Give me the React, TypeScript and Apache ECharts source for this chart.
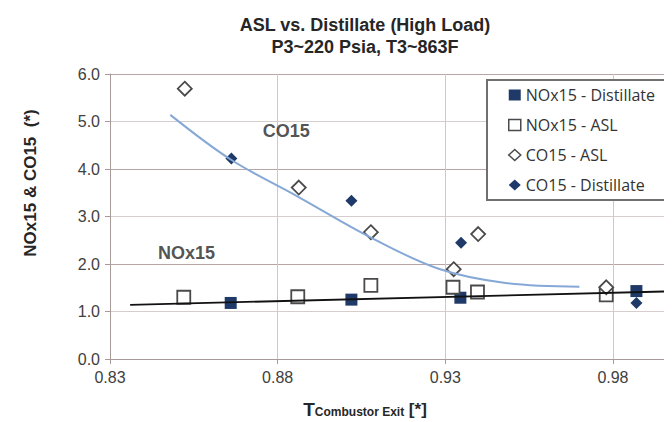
import React, { useEffect, useRef } from "react";
import * as echarts from "echarts";

const titleLines = ["ASL vs. Distillate (High Load)", "P3~220 Psia, T3~863F"];
const yAxisTitle = "NOx15 & CO15  (*)";
const xAxisTitleMain = "T";
const xAxisTitleSub = "Combustor Exit";
const xAxisTitleUnit = " [*]";

const xTickLabels = ["0.83", "0.88", "0.93", "0.98"];
const yTickLabels = ["0.0", "1.0", "2.0", "3.0", "4.0", "5.0", "6.0"];

const seriesNames = ["NOx15 - Distillate", "NOx15 - ASL", "CO15 - ASL", "CO15 - Distillate"];

const noxDistX = [0.866, 0.902, 0.9345, 0.987];
const noxDistY = [1.18, 1.25, 1.29, 1.43];

const noxAslX = [0.852, 0.886, 0.9078, 0.9323, 0.9396, 0.978];
const noxAslY = [1.3, 1.31, 1.55, 1.51, 1.41, 1.35];

const coAslX = [0.8523, 0.8863, 0.9078, 0.9325, 0.9398, 0.978];
const coAslY = [5.69, 3.61, 2.67, 1.89, 2.63, 1.51];

const coDistX = [0.8662, 0.902, 0.9347, 0.987];
const coDistY = [4.22, 3.33, 2.45, 1.18];

const coTrendX = [0.848, 0.866, 0.886, 0.908, 0.928, 0.948, 0.97];
const coTrendY = [5.14, 4.2, 3.42, 2.55, 1.9, 1.6, 1.52];

const noxTrendX = [0.836, 1.0];
const noxTrendY = [1.14, 1.43];

const annotationText = ["CO15", "NOx15"];
const annotationX = [0.8826, 0.8528];
const annotationY = [4.79, 2.23];

const zip = (xs: number[], ys: number[]) => xs.map((x, i) => [x, ys[i]]);

const NAVY = "#1f3a68";
const OPEN_BORDER = "#4a4a4a";

export default function App() {
  const ref = useRef<HTMLDivElement>(null);

  useEffect(() => {
    if (!ref.current) return;
    const chart = echarts.init(ref.current, undefined, { renderer: "svg" });
    const option: any = {
      animation: false,
      backgroundColor: "#ffffff",
      grid: { left: 102, right: 0, top: 66, bottom: 71, containLabel: false },
      graphic: [
        {
          type: "text",
          x: 357,
          y: 6,
          style: {
            text: titleLines.join("\n"),
            font: "bold 18px 'Liberation Sans', Arial, sans-serif",
            lineHeight: 22,
            fill: "#262626",
            align: "center",
            verticalAlign: "top",
          },
        },
        {
          type: "text",
          x: 22,
          y: 175,
          rotation: Math.PI / 2,
          style: {
            text: yAxisTitle,
            font: "bold 17px 'Liberation Sans', Arial, sans-serif",
            fill: "#262626",
            align: "center",
            verticalAlign: "middle",
          },
        },
        {
          type: "text",
          x: 357,
          y: 401,
          style: {
            text: "{a|" + xAxisTitleMain + "}{b|" + xAxisTitleSub + "}{c|" + xAxisTitleUnit + "}",
            align: "center",
            verticalAlign: "middle",
            rich: {
              a: { font: "bold 19px 'Liberation Sans', Arial, sans-serif", fill: "#262626" },
              b: {
                font: "bold 12px 'Liberation Sans', Arial, sans-serif",
                fill: "#262626",
                padding: [6, 0, 0, 0],
              },
              c: { font: "bold 17px 'Liberation Sans', Arial, sans-serif", fill: "#262626" },
            },
          },
        },
      ],
      legend: {
        orient: "vertical",
        left: 479,
        top: 72,
        padding: [7, 22, 7, 21],
        itemWidth: 12,
        itemHeight: 11,
        itemGap: 14,
        backgroundColor: "#ffffff",
        borderColor: "#707070",
        borderWidth: 2,
        textStyle: {
          fontFamily: "'Open Sans', sans-serif",
          fontSize: 16,
          lineHeight: 16,
          color: "#333333",
        },
        data: [
          { name: seriesNames[0], icon: "rect", itemStyle: { color: NAVY, borderWidth: 0 } },
          {
            name: seriesNames[1],
            icon: "rect",
            itemStyle: { color: "#ffffff", borderColor: OPEN_BORDER, borderWidth: 1.5 },
          },
          {
            name: seriesNames[2],
            icon: "diamond",
            itemStyle: { color: "#ffffff", borderColor: OPEN_BORDER, borderWidth: 1.5 },
          },
          { name: seriesNames[3], icon: "diamond", itemStyle: { color: NAVY, borderWidth: 0 } },
        ],
      },
      xAxis: {
        type: "value",
        min: 0.83,
        max: 1.0,
        interval: 0.01,
        axisLine: { show: true, lineStyle: { color: "#a89a9a", width: 1 } },
        axisTick: {
          show: true,
          length: 5,
          customValues: xTickLabels.map(Number),
          lineStyle: { color: "#a89a9a" },
        },
        axisLabel: {
          customValues: xTickLabels.map(Number),
          formatter: (v: number) => v.toFixed(2),
          fontFamily: "'Liberation Sans', Arial, sans-serif",
          fontSize: 16,
          color: "#404040",
          margin: 10,
        },
        splitLine: {
          show: true,
          lineStyle: { color: ["#c2b2b2", "#d3c6c6", "#d3c6c6", "#d3c6c6", "#d3c6c6"], width: 1 },
        },
      },
      yAxis: {
        type: "value",
        min: 0,
        max: 6,
        interval: 0.5,
        axisLine: { show: true, lineStyle: { color: "#a89a9a", width: 1 } },
        axisTick: {
          show: true,
          length: 5,
          customValues: yTickLabels.map(Number),
          lineStyle: { color: "#a89a9a" },
        },
        axisLabel: {
          customValues: yTickLabels.map(Number),
          formatter: (v: number) => v.toFixed(1),
          fontFamily: "'Liberation Sans', Arial, sans-serif",
          fontSize: 16,
          color: "#404040",
          margin: 10,
        },
        splitLine: {
          show: true,
          lineStyle: { color: ["#b8a6a6", "#d8cdcd"], width: 1 },
        },
      },
      series: [
        {
          name: "CO15 trend",
          type: "line",
          data: zip(coTrendX, coTrendY),
          smooth: 0.35,
          showSymbol: false,
          symbol: "none",
          lineStyle: { color: "#86a8d6", width: 2 },
          silent: true,
        },
        {
          name: "NOx15 trend",
          type: "line",
          data: zip(noxTrendX, noxTrendY),
          showSymbol: false,
          symbol: "none",
          lineStyle: { color: "#111111", width: 1.8 },
          silent: true,
        },
        {
          name: seriesNames[0],
          type: "scatter",
          data: zip(noxDistX, noxDistY),
          symbol: "rect",
          symbolSize: 12,
          itemStyle: { color: NAVY, opacity: 1 },
        },
        {
          name: seriesNames[1],
          type: "scatter",
          data: zip(noxAslX, noxAslY),
          symbol: "rect",
          symbolSize: 13,
          itemStyle: { color: "#ffffff", borderColor: OPEN_BORDER, borderWidth: 1.8, opacity: 1 },
        },
        {
          name: seriesNames[2],
          type: "scatter",
          data: zip(coAslX, coAslY),
          symbol: "diamond",
          symbolSize: 14,
          itemStyle: { color: "#ffffff", borderColor: OPEN_BORDER, borderWidth: 1.8, opacity: 1 },
        },
        {
          name: seriesNames[3],
          type: "scatter",
          data: zip(coDistX, coDistY),
          symbol: "diamond",
          symbolSize: 12,
          itemStyle: { color: NAVY, opacity: 1 },
        },
        {
          name: "annotations",
          type: "scatter",
          silent: true,
          symbolSize: 1,
          itemStyle: { color: "rgba(0,0,0,0)" },
          data: annotationText.map((t, i) => [annotationX[i], annotationY[i], t]),
          label: {
            show: true,
            position: "inside",
            formatter: (p: any) => p.value[2],
            fontFamily: "'Liberation Sans', Arial, sans-serif",
            fontWeight: "bold",
            fontSize: 18,
            color: "#262626",
          },
        },
      ],
    };
    chart.setOption(option);
    return () => chart.dispose();
  }, []);

  return <div ref={ref} style={{ width: 672, height: 422 }} />;
}
